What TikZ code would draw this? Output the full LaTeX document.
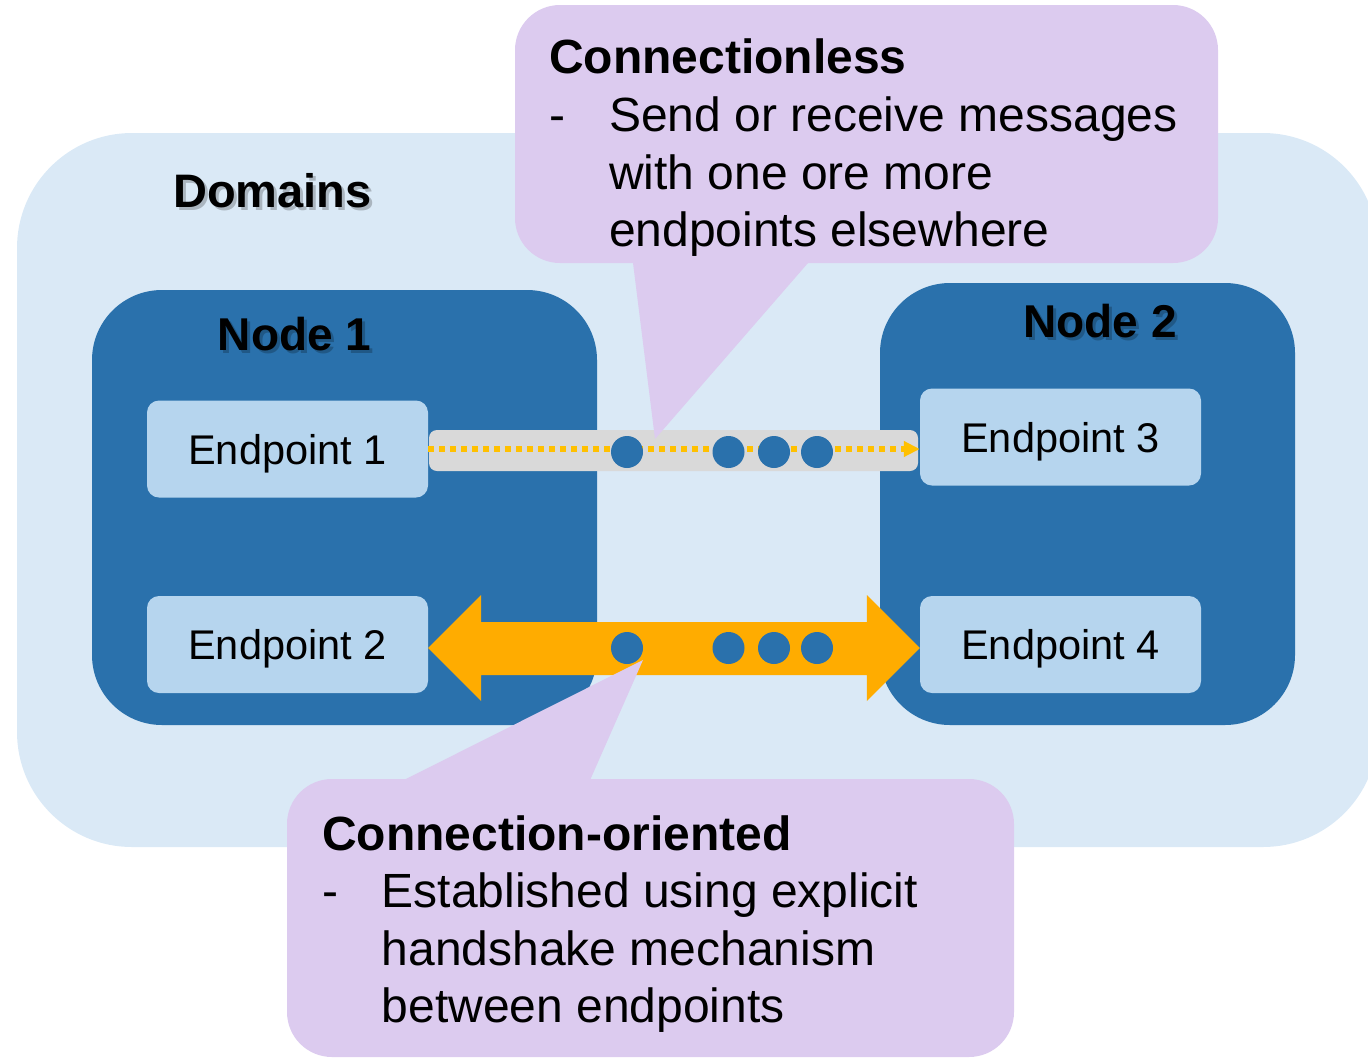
\documentclass[tikz,border=0pt]{standalone}
\usepackage{fontspec}
\setmainfont{Liberation Sans}
\usetikzlibrary{arrows.meta,calc,positioning}

\definecolor{domainbg}{RGB}{218,233,246}
\definecolor{hostblue}{RGB}{42,113,172}
\definecolor{epblue}{RGB}{182,213,238}
\definecolor{bargray}{RGB}{217,217,217}
\definecolor{msgyellow}{RGB}{255,192,0}
\definecolor{linkorange}{RGB}{255,172,0}
\definecolor{noteviolet}{RGB}{220,203,239}

\tikzset{
  hostbox/.style={fill=hostblue, rounded corners=70pt, inner sep=0pt},
  endpoint/.style={fill=epblue, rounded corners=12pt, minimum width=281pt, minimum height=97pt,
    inner sep=0pt, text depth=0pt, font=\fontsize{41.5}{49}\selectfont},
  heading/.style={inner sep=0pt, font=\fontsize{46}{55}\selectfont\bfseries},
  headshadow/.style={heading, text=black, opacity=.22},
  notetext/.style={anchor=base west, inner sep=0pt, font=\fontsize{48}{58}\selectfont},
  notehead/.style={notetext, font=\fontsize{48}{58}\selectfont\bfseries},
}

\begin{document}
\begin{tikzpicture}[x=1pt, y=-1pt]
    \useasboundingbox (0,0) rectangle (1368,1058);
    \clip (0,0) rectangle (1368,1058);

    % Domain area
    \fill[domainbg, rounded corners=115pt] (17,133) rectangle (1378,847);
    \node[headshadow, font=\fontsize{47}{56}\selectfont\bfseries, anchor=base west] at (176,210) {Domains};
    \node[heading, font=\fontsize{47}{56}\selectfont\bfseries, anchor=base west] (domains) at (173,207) {Domains};

    % Hosts
    \node[hostbox, minimum width=505pt, minimum height=435pt] (node1) at (344.5,507.5) {};
    \node[hostbox, minimum width=415pt, minimum height=442pt] (node2) at (1087.5,504) {};
    \node[headshadow, anchor=base] at (297.6,353) {Node 1};
    \node[heading, anchor=base] (node1title) at (294.6,350) {Node 1};
    \node[headshadow, anchor=base] at (1103,340) {Node 2};
    \node[heading, anchor=base] (node2title) at (1100,337) {Node 2};

    % Endpoints
    \node[endpoint] (ep1) at (287.5,449) {Endpoint 1};
    \node[endpoint] (ep2) at (287.5,644.5) {Endpoint 2};
    \node[endpoint] (ep3) at (1060.5,437) {Endpoint 3};
    \node[endpoint] (ep4) at (1060.5,644.5) {Endpoint 4};

    % Connectionless: dotted message path on a gray bar
    \fill[bargray, rounded corners=8pt] (429,430) rectangle (918,471);
    \draw[msgyellow, line width=5.5pt, dash pattern=on 5.5pt off 5.5pt,
          -{Triangle[length=16pt,width=15pt]}] (ep1.east) -- (ep1.east -| ep3.west);

    % Connection-oriented: fat double arrow
    \coordinate (linkL) at ([yshift=-3.5pt]ep2.east);
    \coordinate (linkR) at ([yshift=-3.5pt]ep4.west);
    \fill[linkorange] (linkL) -- ++(53,-53) -- ++(0,27) -- ($(linkR)+(-53,-26)$) -- ++(0,-27)
        -- (linkR) -- ++(-53,53) -- ++(0,-26) -- ($(linkL)+(53,27)$) -- ++(0,26) -- cycle;

    % Callout: connectionless
    \fill[noteviolet, rounded corners=45pt] (515,5) rectangle (1218,263);
    \fill[noteviolet] (631.4,250) -- (655,439) -- (819.3,250) -- cycle;
    \node[notehead] (clessTitle) at (549,73) {Connectionless};
    \node[notetext] at (549,131) {-};
    \node[notetext] (cless1) at (609,131) {Send or receive messages};
    \node[notetext] (cless2) at (609,189) {with one ore more};
    \node[notetext] (cless3) at (609,246) {endpoints elsewhere};

    % Callout: connection-oriented
    \fill[noteviolet, rounded corners=45pt] (287,779) rectangle (1014,1057);
    \fill[noteviolet] (384,790) -- (643,660) -- (585.7,790) -- cycle;
    \node[notehead] (corTitle) at (322,850) {Connection-oriented};
    \node[notetext] at (322,907) {-};
    \node[notetext] (cor1) at (381.5,907) {Established using explicit};
    \node[notetext] (cor2) at (381.5,965) {handshake mechanism};
    \node[notetext] (cor3) at (381.5,1022) {between endpoints};

    % Message tokens
    \foreach \x in {627,728.5,774,817} {
        \fill[hostblue] (\x,452) circle[radius=16pt];
        \fill[hostblue] (\x,648) circle[radius=16pt];
    }
\end{tikzpicture}
\end{document}
